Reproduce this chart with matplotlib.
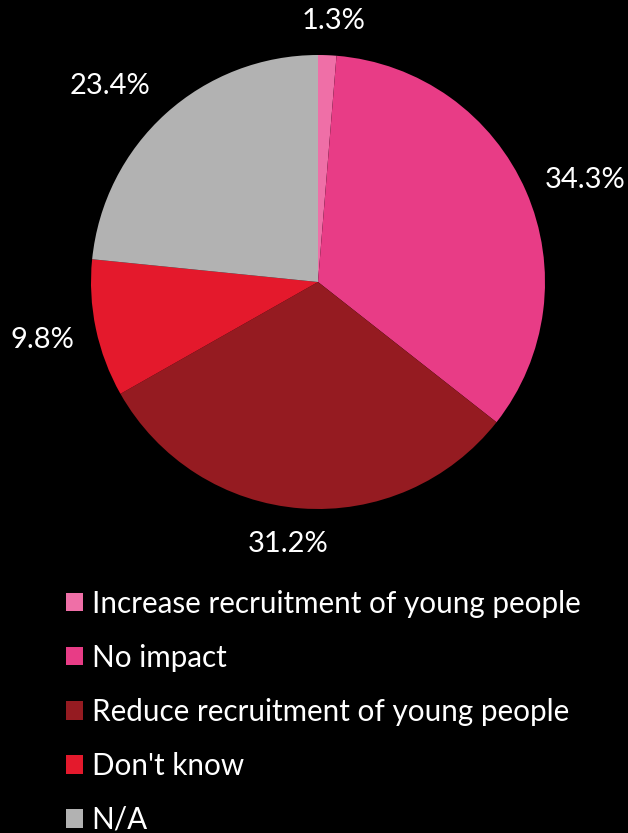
import numpy as np
import matplotlib.pyplot as plt
from matplotlib.patches import Patch

plt.rcParams['font.family'] = ['Lato', 'DejaVu Sans']

categories = ['Increase recruitment of young people', 'No impact',
              'Reduce recruitment of young people', "Don't know", 'N/A']
shares = [1.3, 34.3, 31.2, 9.8, 23.4]
colors = ['#EF6FA7', '#E83C86', '#951B21', '#E4192C', '#B2B2B2']

# where each percentage label sits: (distance in radii, angle nudge in degrees)
label_spots = [(1.15, -1), (1.26, -2.7), (1.16, -2.3), (1.24, 0), (1.26, 4.5)]

W, H = 628, 833
fig = plt.figure(figsize=(W / 100, H / 100), dpi=100, facecolor='black')
ax = fig.add_axes([0, 0, 1, 1])

cx, cy, r = 318, H - 282, 227
wedges, _ = ax.pie(shares, colors=colors, startangle=90, counterclock=False,
                   center=(cx, cy), radius=r, frame=True,
                   wedgeprops=dict(linewidth=0))
ax.set_xlim(0, W)
ax.set_ylim(0, H)
ax.set_aspect('equal')
ax.axis('off')

for w, val, (dist, nudge) in zip(wedges, shares, label_spots):
    mid = np.deg2rad((w.theta1 + w.theta2) / 2 + nudge)
    x = cx + dist * r * np.cos(mid)
    y = cy + dist * r * np.sin(mid)
    ax.text(x, y, f'{val}%', color='white', fontsize=21,
            ha='center', va='center')

handles = [Patch(facecolor=c, edgecolor='none') for c in colors]
fig.legend(handles, categories, loc='upper left',
           bbox_to_anchor=(45 / W, 1 - 569 / H), frameon=False,
           fontsize=21.3, labelcolor='white', handlelength=0.58,
           handleheight=0.58, handletextpad=0.3, labelspacing=0.88,
           borderpad=0.2)

fig.savefig('out.png', dpi=100, facecolor='black')
